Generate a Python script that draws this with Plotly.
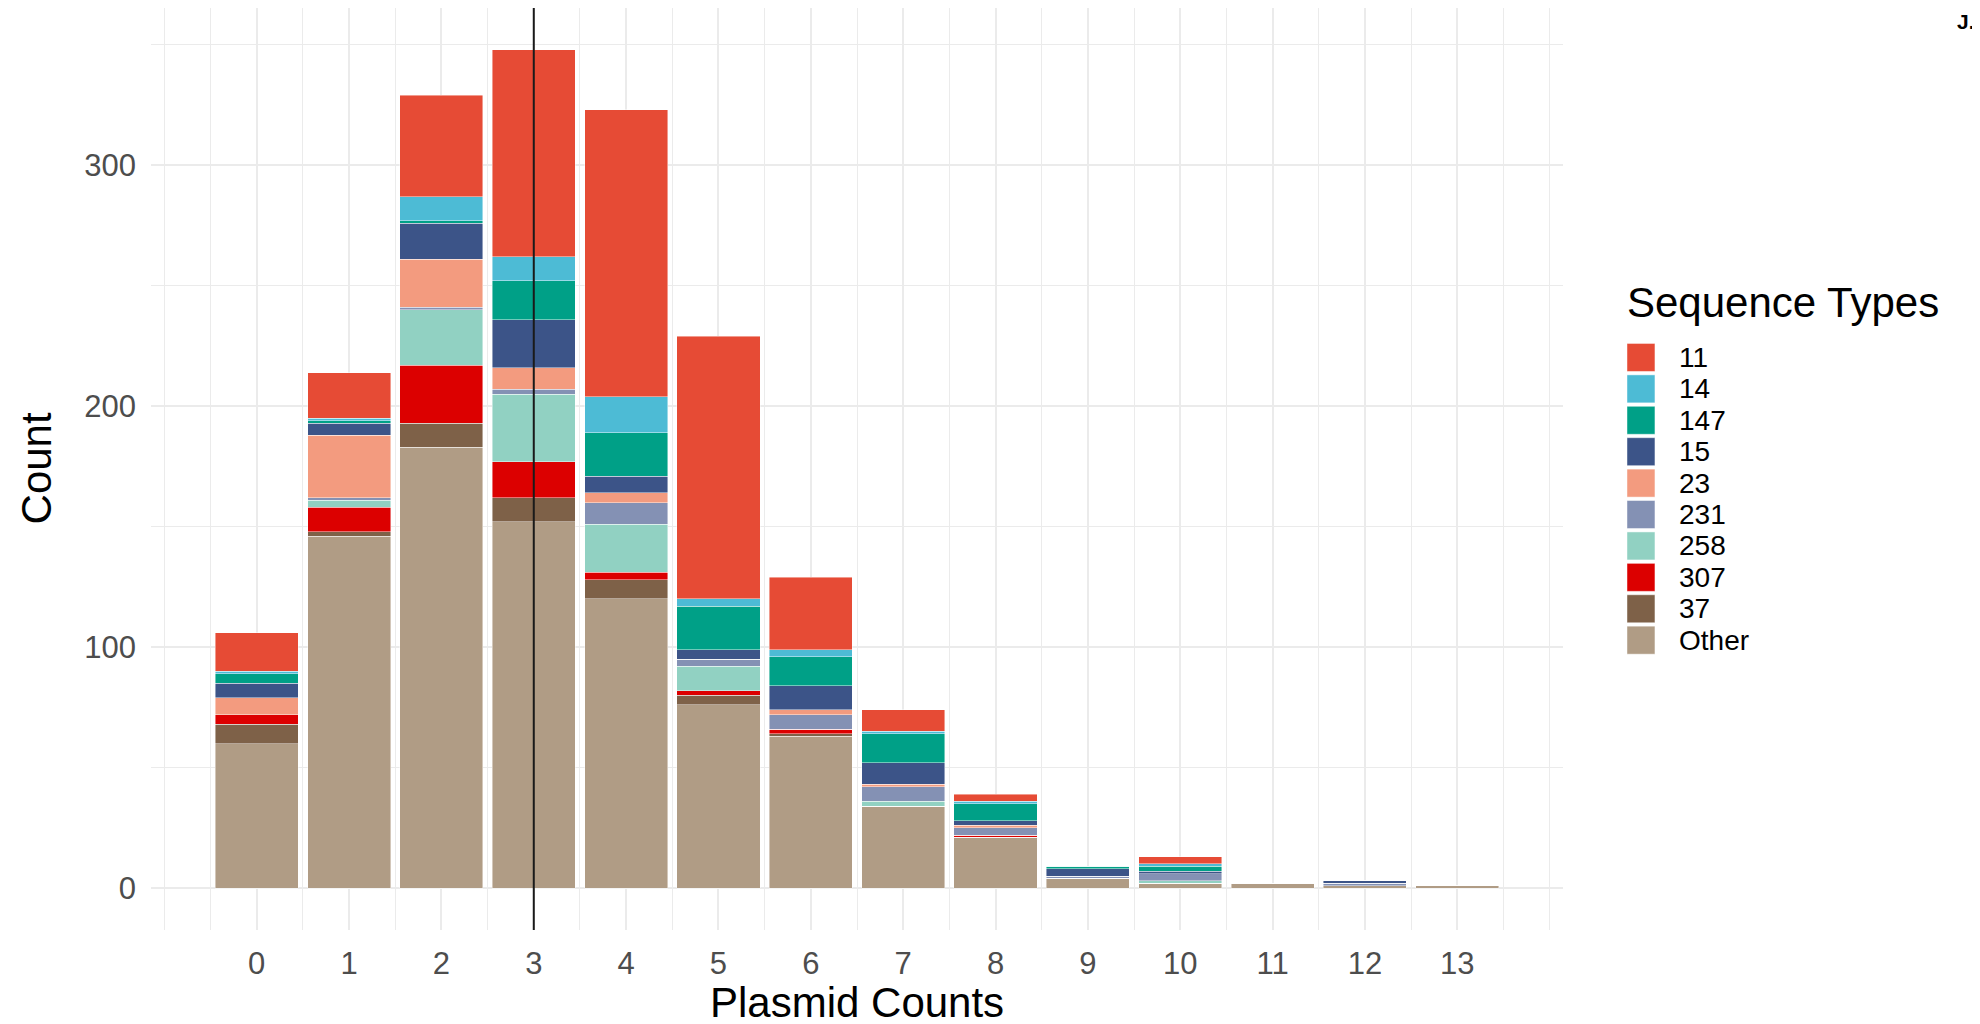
import plotly.graph_objects as go

# ---------------- data ----------------
plasmid_counts = list(range(14))
tick_labels = [str(v) for v in plasmid_counts]

# stacking order bottom -> top
series_names = ["Other", "37", "307", "258", "231", "23", "15", "147", "14", "11"]
series_colors = ["#B09C85", "#7E6148", "#DC0000", "#91D1C2", "#8491B4",
                 "#F39B7F", "#3C5488", "#00A087", "#4DBBD5", "#E64B35"]

other_vals = [60, 146, 183, 152, 120, 76, 63, 34, 21, 4, 2, 2, 1, 1]
st37_vals  = [8, 2, 10, 10, 8, 4, 1, 0, 0, 0, 0, 0, 0, 0]
st307_vals = [4, 10, 24, 15, 3, 2, 2, 0, 1, 0, 0, 0, 0, 0]
st258_vals = [0, 3, 23, 28, 20, 10, 0, 2, 0, 0, 1, 0, 0, 0]
st231_vals = [0, 1, 1, 2, 9, 3, 6, 6, 3, 1, 3, 0, 1, 0]
st23_vals  = [7, 26, 20, 9, 4, 0, 2, 1, 1, 0, 0, 0, 0, 0]
st15_vals  = [6, 5, 15, 20, 7, 4, 10, 9, 2, 3, 1, 0, 1, 0]
st147_vals = [4, 1, 1, 16, 18, 18, 12, 12, 7, 1, 2, 0, 0, 0]
st14_vals  = [1, 1, 10, 10, 15, 3, 3, 1, 1, 0, 1, 0, 0, 0]
st11_vals  = [16, 19, 42, 86, 119, 109, 30, 9, 3, 0, 3, 0, 0, 0]

series_values = [other_vals, st37_vals, st307_vals, st258_vals, st231_vals,
                 st23_vals, st15_vals, st147_vals, st14_vals, st11_vals]

legend_order = ["11", "14", "147", "15", "23", "231", "258", "307", "37", "Other"]
marked_count = 3

# ---------------- layout geometry ----------------
# the page body adds an 8px offset, so figure coordinates = screen - 8
OFF = 8
W, H = 1980, 1024
PL, PR, PT, PB = 150.5 - OFF, 1563 - OFF, 0, 929.6 - OFF

def px2x(X):  # X given in screen pixels
    return (X - OFF - PL) / (PR - PL)

def px2y(Y):  # Y given in screen pixels
    return (PB - (Y - OFF)) / (PB - PT)

FONT = "Liberation Sans, Arial, Helvetica, sans-serif"
GRID = "#EBEBEB"

fig = go.Figure()
for name, color, vals in zip(series_names, series_colors, series_values):
    fig.add_trace(go.Bar(
        x=plasmid_counts, y=vals, name=name, width=0.9,
        marker=dict(color=color, line=dict(color="rgba(255,255,255,0.55)", width=0.8)),
        showlegend=False,
    ))

fig.update_layout(
    width=W, height=H,
    barmode="stack",
    paper_bgcolor="white", plot_bgcolor="white",
    margin=dict(l=PL, r=W - PR, t=PT, b=H - PB, pad=0),
    font=dict(family=FONT, color="black"),
    xaxis=dict(
        range=[-1.145, 14.145],
        tickmode="array", tickvals=plasmid_counts, ticktext=tick_labels,
        showgrid=True, gridcolor=GRID, gridwidth=2.4,
        minor=dict(dtick=0.5, tick0=0, showgrid=True, gridcolor=GRID, gridwidth=1.3),
        zeroline=False, showline=False, ticks="",
        tickfont=dict(size=31, color="#4D4D4D", family=FONT),
        ticklabelstandoff=12,
    ),
    yaxis=dict(
        range=[-17.4, 365.3],
        tick0=0, dtick=100,
        showgrid=True, gridcolor=GRID, gridwidth=2.4,
        minor=dict(dtick=50, tick0=0, showgrid=True, gridcolor=GRID, gridwidth=1.3),
        zeroline=False, showline=False, ticks="",
        tickfont=dict(size=31, color="#4D4D4D", family=FONT),
        ticklabelstandoff=14,
    ),
)

# vertical reference line
fig.add_shape(type="line", xref="x", yref="paper", x0=marked_count, x1=marked_count,
              y0=0, y1=1, line=dict(color="#1A1A1A", width=2), layer="above")

annotations = []
# axis titles
annotations.append(dict(text="Count", xref="paper", yref="paper", x=px2x(36), y=px2y(468.7),
                        textangle=-90, showarrow=False, xanchor="center", yanchor="middle",
                        font=dict(size=42, color="black", family=FONT)))
annotations.append(dict(text="Plasmid Counts", xref="paper", yref="paper", x=0.5, y=px2y(1002),
                        showarrow=False, xanchor="center", yanchor="middle",
                        font=dict(size=42, color="black", family=FONT)))
# corner text
annotations.append(dict(text="<b>J.</b>", xref="paper", yref="paper", x=px2x(1955), y=px2y(8),
                        showarrow=False, xanchor="left", yanchor="top",
                        font=dict(size=21, color="black", family=FONT)))

# legend (drawn manually for ggplot-like square keys)
annotations.append(dict(text="Sequence Types", xref="paper", yref="paper", x=px2x(1625), y=px2y(302),
                        showarrow=False, xanchor="left", yanchor="middle",
                        font=dict(size=42, color="black", family=FONT)))
color_of = dict(zip(series_names, series_colors))
key_top0, key_step, key_size = 343.3, 31.4, 28
for i, name in enumerate(legend_order):
    top = key_top0 + i * key_step
    fig.add_shape(type="rect", xref="paper", yref="paper",
                  x0=px2x(1627), x1=px2x(1627 + key_size),
                  y0=px2y(top + key_size), y1=px2y(top),
                  fillcolor=color_of[name], line=dict(color="rgba(255,255,255,0.6)", width=0.8),
                  layer="above")
    annotations.append(dict(text=name, xref="paper", yref="paper", x=px2x(1677),
                            y=px2y(top + key_size / 2), showarrow=False,
                            xanchor="left", yanchor="middle",
                            font=dict(size=28, color="black", family=FONT)))

fig.update_layout(annotations=annotations)
fig.write_html("out.html")
